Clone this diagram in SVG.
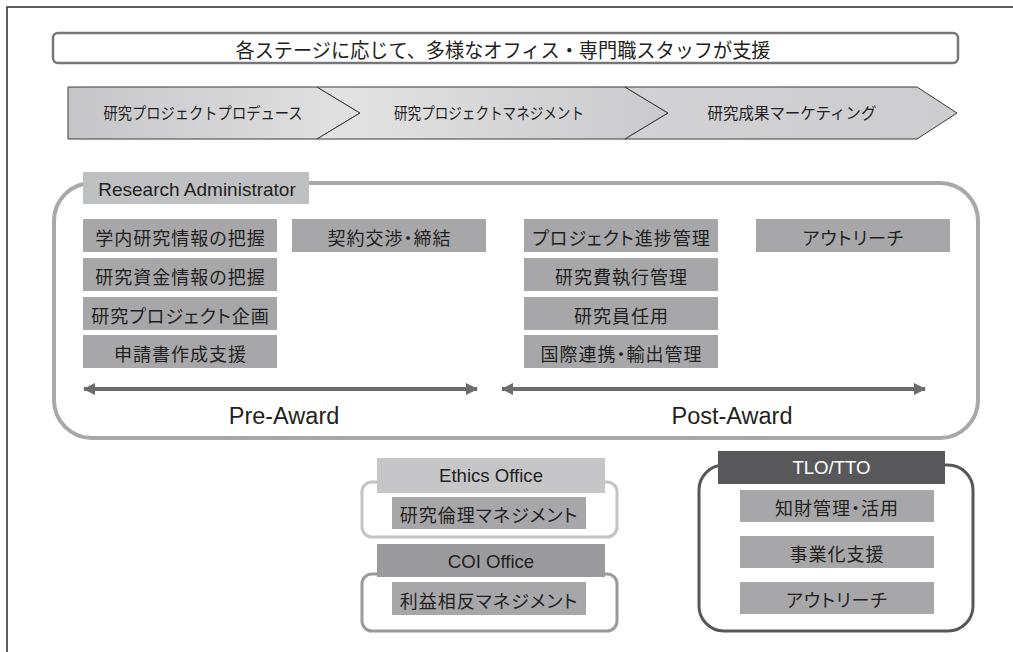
<svg xmlns="http://www.w3.org/2000/svg" width="1013" height="652" viewBox="0 0 1013 652">
<style>
.jp{font-family:"Noto Sans CJK JP","Noto Sans",sans-serif;fill:#231f20;}
.item-t{font-size:18px;letter-spacing:1px;font-feature-settings:"palt";text-anchor:middle;dominant-baseline:central;}
.lat{font-family:"Liberation Sans",Arial,sans-serif;fill:#231f20;text-anchor:middle;}
.item{fill:#a7a7a9;}
.chev{stroke:#3a3a3a;stroke-width:1;}
</style>
<defs>
<linearGradient id="g1" x1="0" y1="0" x2="1" y2="0">
<stop offset="0" stop-color="#c6c6c8"/><stop offset="1" stop-color="#e2e2e3"/>
</linearGradient>
<linearGradient id="g2" x1="0" y1="0" x2="1" y2="0">
<stop offset="0" stop-color="#e4e4e5"/><stop offset="1" stop-color="#cacacc"/>
</linearGradient>
<linearGradient id="g3" x1="0" y1="0" x2="1" y2="0">
<stop offset="0" stop-color="#d2d2d4"/><stop offset="1" stop-color="#cdcdcf"/>
</linearGradient>
<marker id="ah" viewBox="0 0 12 12" refX="11" refY="6" markerWidth="12" markerHeight="12" markerUnits="userSpaceOnUse" orient="auto-start-reverse">
<path d="M0,0 L12,6 L0,12 Z" fill="#6d6d6e"/>
</marker>
</defs>
<rect width="1013" height="652" fill="#ffffff"/>
<rect x="7" y="7" width="1030" height="670" fill="none" stroke="#2a2a2a" stroke-width="1.5"/>

<g id="title">
<rect x="53" y="33" width="905" height="30" rx="5" fill="#ffffff" stroke="#777779" stroke-width="2.5"/>
<text class="jp" x="503" y="49" font-size="20" text-anchor="middle" dominant-baseline="central" textLength="535" lengthAdjust="spacingAndGlyphs">各ステージに応じて、多様なオフィス・専門職スタッフが支援</text>
</g>

<g id="stage1">
<polygon class="chev" points="68,87 317,87 360,113 317,139 68,139" fill="url(#g1)"/>
<text class="jp" x="203" y="112" font-size="16" text-anchor="middle" dominant-baseline="central" textLength="199" lengthAdjust="spacingAndGlyphs">研究プロジェクトプロデュース</text>
</g>
<g id="stage2">
<polygon class="chev" points="317,87 625,87 668,113 625,139 317,139 360,113" fill="url(#g2)"/>
<text class="jp" x="489" y="112" font-size="16" text-anchor="middle" dominant-baseline="central" textLength="190" lengthAdjust="spacingAndGlyphs">研究プロジェクトマネジメント</text>
</g>
<g id="stage3">
<polygon class="chev" points="625,87 917,87 957,113 917,139 625,139 668,113" fill="url(#g3)"/>
<text class="jp" x="792" y="112" font-size="16" text-anchor="middle" dominant-baseline="central" textLength="169" lengthAdjust="spacingAndGlyphs">研究成果マーケティング</text>
</g>

<g id="research-administrator">
<rect x="54" y="183" width="924" height="255" rx="38" fill="#ffffff" stroke="#a8a8aa" stroke-width="4"/>
<rect x="83" y="172" width="226" height="32" fill="#bfc0c2"/>
<text class="lat" x="197" y="195.5" font-size="19">Research Administrator</text>
</g>

<g id="ra-items">
<rect class="item" x="83" y="219" width="194" height="33"/>
<text class="jp item-t" x="180.5" y="237">学内研究情報の把握</text>
<rect class="item" x="83" y="258" width="194" height="33"/>
<text class="jp item-t" x="180.5" y="276">研究資金情報の把握</text>
<rect class="item" x="83" y="297" width="194" height="33"/>
<text class="jp item-t" x="180.5" y="315">研究プロジェクト企画</text>
<rect class="item" x="83" y="335" width="194" height="33"/>
<text class="jp item-t" x="180.5" y="353">申請書作成支援</text>
<rect class="item" x="292" y="219" width="194" height="33"/>
<text class="jp item-t" x="389.5" y="237">契約交渉・締結</text>
<rect class="item" x="524" y="219" width="194" height="33"/>
<text class="jp item-t" x="621.5" y="237">プロジェクト進捗管理</text>
<rect class="item" x="524" y="258" width="194" height="33"/>
<text class="jp item-t" x="621.5" y="276">研究費執行管理</text>
<rect class="item" x="524" y="297" width="194" height="33"/>
<text class="jp item-t" x="621.5" y="315">研究員任用</text>
<rect class="item" x="524" y="335" width="194" height="33"/>
<text class="jp item-t" x="621.5" y="353">国際連携・輸出管理</text>
<rect class="item" x="756" y="219" width="194" height="33"/>
<text class="jp item-t" x="853.5" y="237">アウトリーチ</text>
</g>

<g id="connectors">
<line x1="84" y1="389" x2="477" y2="389" stroke="#6d6d6e" stroke-width="4" marker-start="url(#ah)" marker-end="url(#ah)"/>
<line x1="502" y1="389" x2="925" y2="389" stroke="#6d6d6e" stroke-width="4" marker-start="url(#ah)" marker-end="url(#ah)"/>
</g>

<g id="phase-labels">
<text class="lat" x="284" y="424" font-size="23.5">Pre-Award</text>
<text class="lat" x="732" y="424" font-size="23.5">Post-Award</text>
</g>

<g id="ethics-office">
<rect x="362" y="482" width="255" height="55" rx="10" fill="#ffffff" stroke="#c4c4c6" stroke-width="3"/>
<rect x="377" y="458" width="228" height="35" fill="#c6c6c8"/>
<text class="lat" x="491" y="482" font-size="18.6">Ethics Office</text>
<rect class="item" x="392" y="497" width="194" height="32"/>
<text class="jp item-t" x="489" y="514">研究倫理マネジメント</text>
</g>

<g id="coi-office">
<rect x="362" y="574" width="255" height="57" rx="10" fill="#ffffff" stroke="#9a9a9c" stroke-width="3"/>
<rect x="377" y="544" width="228" height="33" fill="#9b9b9d"/>
<text class="lat" x="491" y="567.5" font-size="18.6">COI Office</text>
<rect class="item" x="392" y="582" width="194" height="33"/>
<text class="jp item-t" x="489" y="600">利益相反マネジメント</text>
</g>

<g id="tlo-tto">
<rect x="699" y="465" width="274" height="166" rx="25" fill="#ffffff" stroke="#58585a" stroke-width="3"/>
<rect x="718" y="451" width="227" height="33" fill="#58585a"/>
<text class="lat" x="831.5" y="474" font-size="18.6" style="fill:#ffffff">TLO/TTO</text>
<rect class="item" x="740" y="490" width="194" height="32"/>
<text class="jp item-t" x="837" y="507">知財管理・活用</text>
<rect class="item" x="740" y="536" width="194" height="32"/>
<text class="jp item-t" x="837" y="553">事業化支援</text>
<rect class="item" x="740" y="582" width="194" height="32"/>
<text class="jp item-t" x="837" y="599">アウトリーチ</text>
</g>
</svg>
